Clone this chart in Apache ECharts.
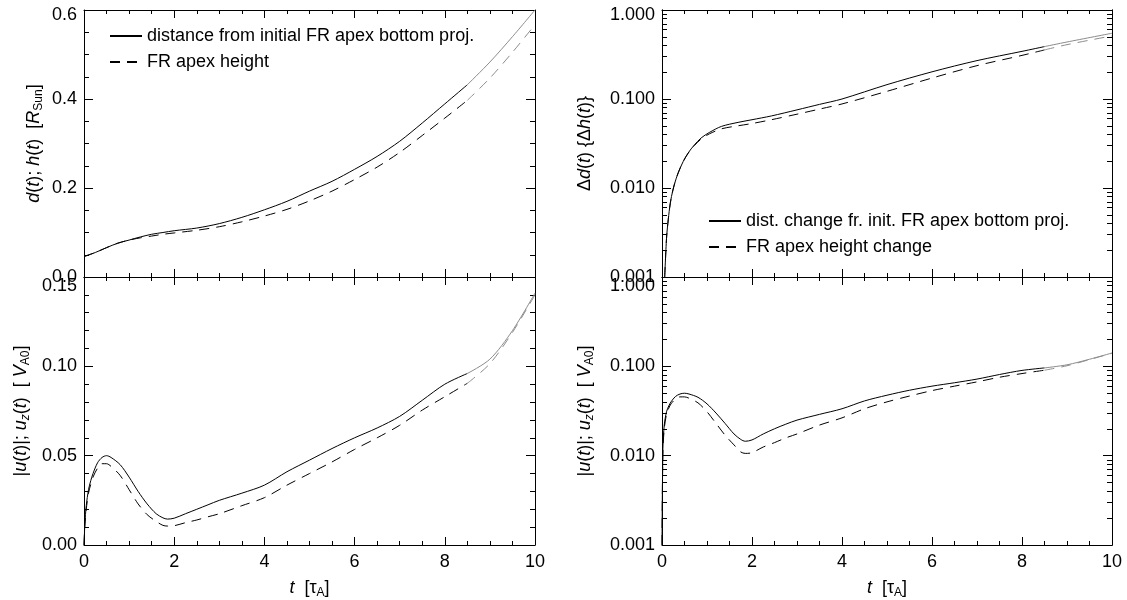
<!DOCTYPE html>
<html><head><meta charset="utf-8">
<script src="https://cdn.jsdelivr.net/npm/echarts@6/dist/echarts.min.js"></script>
<style>html,body{margin:0;padding:0;background:#fff}#c{width:1127px;height:600px}</style>
</head><body><div id="c"></div>
<script>
// ---- data ----
const tD = [0, 0.25, 0.5, 0.75, 1, 1.25, 1.5, 1.75, 2, 2.5, 3, 3.5, 4, 4.5, 5, 5.5, 6, 6.5, 7, 7.5, 8, 8.5, 9, 9.5, 10];
const dSolid = [0.046, 0.055, 0.066, 0.076, 0.083, 0.090, 0.096, 0.100, 0.104, 0.110, 0.120, 0.134, 0.151, 0.170, 0.193, 0.215, 0.242, 0.271, 0.305, 0.346, 0.389, 0.432, 0.483, 0.540, 0.600];
const hDash  = [0.046, 0.055, 0.066, 0.076, 0.083, 0.088, 0.092, 0.096, 0.099, 0.105, 0.113, 0.124, 0.137, 0.152, 0.171, 0.193, 0.219, 0.247, 0.280, 0.318, 0.357, 0.397, 0.447, 0.505, 0.567];

const tDelta = [0.06, 0.1, 0.13, 0.17, 0.21, 0.28, 0.36, 0.47, 0.58, 0.72, 0.87, 1.05, 1.32, 1.69, 2, 2.43, 3, 3.5, 4, 5, 6, 7, 8, 8.5, 9, 10];
const deltaD = [0.001, 0.0027, 0.0040, 0.0060, 0.0080, 0.0112, 0.0148, 0.0198, 0.0247, 0.0305, 0.0365, 0.0420, 0.0492, 0.0546, 0.0585, 0.0645, 0.0755, 0.087, 0.100, 0.145, 0.202, 0.270, 0.343, 0.388, 0.437, 0.548];
const deltaH = [0.001, 0.0027, 0.0040, 0.0060, 0.0080, 0.0112, 0.0148, 0.0198, 0.0245, 0.0300, 0.0355, 0.0405, 0.0462, 0.0500, 0.0530, 0.0585, 0.0675, 0.077, 0.088, 0.122, 0.172, 0.237, 0.309, 0.356, 0.408, 0.512];

const tU = [0, 0.02, 0.05, 0.1, 0.15, 0.2, 0.3, 0.4, 0.5, 0.6, 0.8, 1.0, 1.2, 1.4, 1.6, 1.75, 1.85, 2.0, 2.25, 2.5, 2.75, 3, 3.5, 4, 4.5, 5, 5.5, 6, 6.5, 7, 7.5, 8, 8.5, 9, 9.5, 10];
const uAbs = [0, 0.012, 0.022, 0.031, 0.036, 0.040, 0.046, 0.049, 0.050, 0.049, 0.045, 0.038, 0.030, 0.023, 0.0175, 0.0152, 0.0145, 0.0150, 0.0175, 0.0200, 0.0225, 0.0250, 0.0290, 0.0335, 0.0410, 0.0475, 0.0540, 0.0600, 0.0655, 0.0720, 0.0810, 0.0900, 0.0960, 0.1040, 0.1200, 0.1410];
const uZ   = [0, 0.011, 0.020, 0.029, 0.034, 0.038, 0.043, 0.0455, 0.0455, 0.044, 0.039, 0.031, 0.023, 0.0170, 0.0132, 0.0110, 0.0106, 0.0108, 0.0125, 0.0140, 0.0158, 0.0175, 0.0220, 0.0265, 0.0335, 0.0400, 0.0465, 0.0535, 0.0600, 0.0670, 0.0755, 0.0830, 0.0905, 0.1015, 0.1190, 0.1400];

const legendTop = ['distance from initial FR apex bottom proj.', 'FR apex height'];
const legendRight = ['dist. change fr. init. FR apex bottom proj.', 'FR apex height change'];
const logMajor = [0.001, 0.01, 0.1, 1];
const logMinor = [0.002,0.003,0.004,0.005,0.006,0.007,0.008,0.009,0.02,0.03,0.04,0.05,0.06,0.07,0.08,0.09,0.2,0.3,0.4,0.5,0.6,0.7,0.8,0.9];
const greyFrom = 8.5;

// ---- styling ----
const FONT = 'Liberation Sans';
const BLACK = '#000';
const GREY = '#8c8c8c';
const rich = {
  i: {fontStyle: 'italic'},
  sub: {fontSize: 12, lineHeight: 12, verticalAlign: 'bottom'},
  isub: {fontSize: 12, lineHeight: 12, verticalAlign: 'bottom', fontStyle: 'italic'}
};
const nameStyle = {fontFamily: FONT, fontSize: 18, color: BLACK, lineHeight: 22, rich: rich};
const labelStyle = {fontFamily: FONT, fontSize: 18, color: BLACK};

const grids = [
  {left: 84, top: 10, width: 451, height: 267},
  {left: 84, top: 277, width: 451, height: 268},
  {left: 662, top: 10, width: 450, height: 267},
  {left: 662, top: 277, width: 450, height: 268}
];

function xPair(g, withLabels) {
  const base = {
    type: 'value', gridIndex: g, min: 0, max: 10, interval: 2,
    axisLine: {show: true, onZero: false, lineStyle: {color: BLACK, width: 1}},
    axisTick: {show: true, inside: true, length: 8, lineStyle: {color: BLACK, width: 1}},
    minorTick: {show: true, splitNumber: 4, length: 4, lineStyle: {color: BLACK, width: 1}},
    splitLine: {show: false}, minorSplitLine: {show: false}
  };
  const bottom = Object.assign({}, base, {
    position: 'bottom',
    axisLabel: Object.assign({show: withLabels, margin: 8}, labelStyle)
  });
  if (withLabels) {
    bottom.name = '{i|t}  [\u03C4{sub|A}]';
    bottom.nameLocation = 'middle';
    bottom.nameGap = 32;
    bottom.nameTextStyle = nameStyle;
  }
  const top = Object.assign({}, base, {position: 'top', axisLabel: {show: false}});
  return [bottom, top];
}

// the top label of each panel sits a little lower than its tick
function endLabel(text, isTop) {
  return isTop ? '{top|' + text + '}' : text;
}

function yLinPair(g, max, interval, minorSplit, digits, name, gap, topPad) {
  const base = {
    type: 'value', gridIndex: g, min: 0, max: max, interval: interval,
    axisLine: {show: true, onZero: false, lineStyle: {color: BLACK, width: 1}},
    axisTick: {show: true, inside: true, length: 9, lineStyle: {color: BLACK, width: 1}},
    minorTick: {show: true, splitNumber: minorSplit, length: 5, lineStyle: {color: BLACK, width: 1}},
    splitLine: {show: false}, minorSplitLine: {show: false}
  };
  const left = Object.assign({}, base, {
    position: 'left',
    axisLabel: Object.assign({show: true, margin: 7, showMinLabel: true, showMaxLabel: true,
      formatter: v => endLabel(v.toFixed(digits), Math.abs(v - max) < 1e-9),
      rich: {top: {padding: [topPad, 0, 0, 0]}}}, labelStyle),
    name: name, nameLocation: 'middle', nameGap: gap, nameTextStyle: nameStyle
  });
  const right = Object.assign({}, base, {position: 'right', axisLabel: {show: false}});
  return [left, right];
}

function yLogQuad(g, name, gap, topPad) {
  const base = {
    type: 'log', logBase: 10, gridIndex: g, min: 0.001, max: 1,
    axisLine: {show: true, onZero: false, lineStyle: {color: BLACK, width: 1}},
    splitLine: {show: false}, minorTick: {show: false}
  };
  const majorTick = {show: true, inside: true, length: 9, customValues: logMajor, lineStyle: {color: BLACK, width: 1}};
  const minorTick = {show: true, inside: true, length: 5, customValues: logMinor, lineStyle: {color: BLACK, width: 1}};
  return [
    Object.assign({}, base, {position: 'left', axisTick: majorTick,
      axisLabel: Object.assign({show: true, margin: 7, customValues: logMajor,
        formatter: v => endLabel(Number(v).toFixed(3), Math.abs(v - 1) < 1e-9),
        rich: {top: {padding: [topPad, 0, 0, 0]}}}, labelStyle),
      name: name, nameLocation: 'middle', nameGap: gap, nameTextStyle: nameStyle}),
    Object.assign({}, base, {position: 'right', axisTick: majorTick, axisLabel: {show: false}}),
    Object.assign({}, base, {position: 'left', axisTick: minorTick, axisLabel: {show: false}}),
    Object.assign({}, base, {position: 'right', axisTick: minorTick, axisLabel: {show: false}})
  ];
}

const xAxis = [].concat(xPair(0, false), xPair(1, true), xPair(2, false), xPair(3, true));
const yAxis = [].concat(
  yLinPair(0, 0.6, 0.2, 4, 1, '{i|d}({i|t}); {i|h}({i|t})  [{i|R}{sub|Sun}]', 39, 10),
  yLinPair(1, 0.15, 0.05, 5, 2, '|{i|u}({i|t})|; {i|u}{isub|z}({i|t})  [ {i|V}{sub|A0}]', 52, 18),
  yLogQuad(2, '\u0394{i|d}({i|t}) {\u0394{i|h}({i|t})}', 66, 10),
  yLogQuad(3, '|{i|u}({i|t})|; {i|u}{isub|z}({i|t})  [ {i|V}{sub|A0}]', 66, 18)
);

// points of one curve, split into the early (black) and late (grey) stretch
function pts(xs, ys, floor, part) {
  const all = xs.map((t, i) => [t, floor ? Math.max(ys[i], floor) : ys[i]]);
  return all.filter(p => part === 'early' ? p[0] <= greyFrom : p[0] >= greyFrom);
}
function line(name, data, dashed, color, xi, yi) {
  return {
    type: 'line', name: name, xAxisIndex: xi, yAxisIndex: yi,
    data: data, symbol: 'none', showSymbol: false, smooth: 0.3,
    lineStyle: {color: color, width: 1, type: dashed ? [10, 7] : 'solid'},
    itemStyle: {color: color}, emphasis: {disabled: true}, z: 5
  };
}
function curve(name, xs, ys, dashed, xi, yi, floor) {
  return [
    line(name, pts(xs, ys, floor, 'early'), dashed, BLACK, xi, yi),
    line(name + ' (late)', pts(xs, ys, floor, 'late'), dashed, GREY, xi, yi)
  ];
}

const series = [].concat(
  curve(legendTop[0], tD, dSolid, false, 0, 0),
  curve(legendTop[1], tD, hDash, true, 0, 0),
  curve('|u(t)|', tU, uAbs, false, 2, 2),
  curve('u_z(t)', tU, uZ, true, 2, 2),
  curve(legendRight[0], tDelta, deltaD, false, 4, 4),
  curve(legendRight[1], tDelta, deltaH, true, 4, 4),
  curve('|u(t)| log', tU, uAbs, false, 6, 8, 0.001),
  curve('u_z(t) log', tU, uZ, true, 6, 8, 0.001)
);

const legendCommon = {
  orient: 'vertical', padding: 0, itemWidth: 32, itemHeight: 14, itemGap: 8,
  textStyle: {fontFamily: FONT, fontSize: 18, color: BLACK, lineHeight: 18},
  itemStyle: {opacity: 0}, selectedMode: false
};

const option = {
  animation: false,
  backgroundColor: '#fff',
  grid: grids,
  xAxis: xAxis,
  yAxis: yAxis,
  legend: [
    Object.assign({data: legendTop, left: 109, top: 27}, legendCommon),
    Object.assign({data: legendRight, left: 708, top: 212}, legendCommon)
  ],
  series: series
};

const chart = echarts.init(document.getElementById('c'), null, {renderer: 'canvas'});
chart.setOption(option);
</script>
</body></html>
